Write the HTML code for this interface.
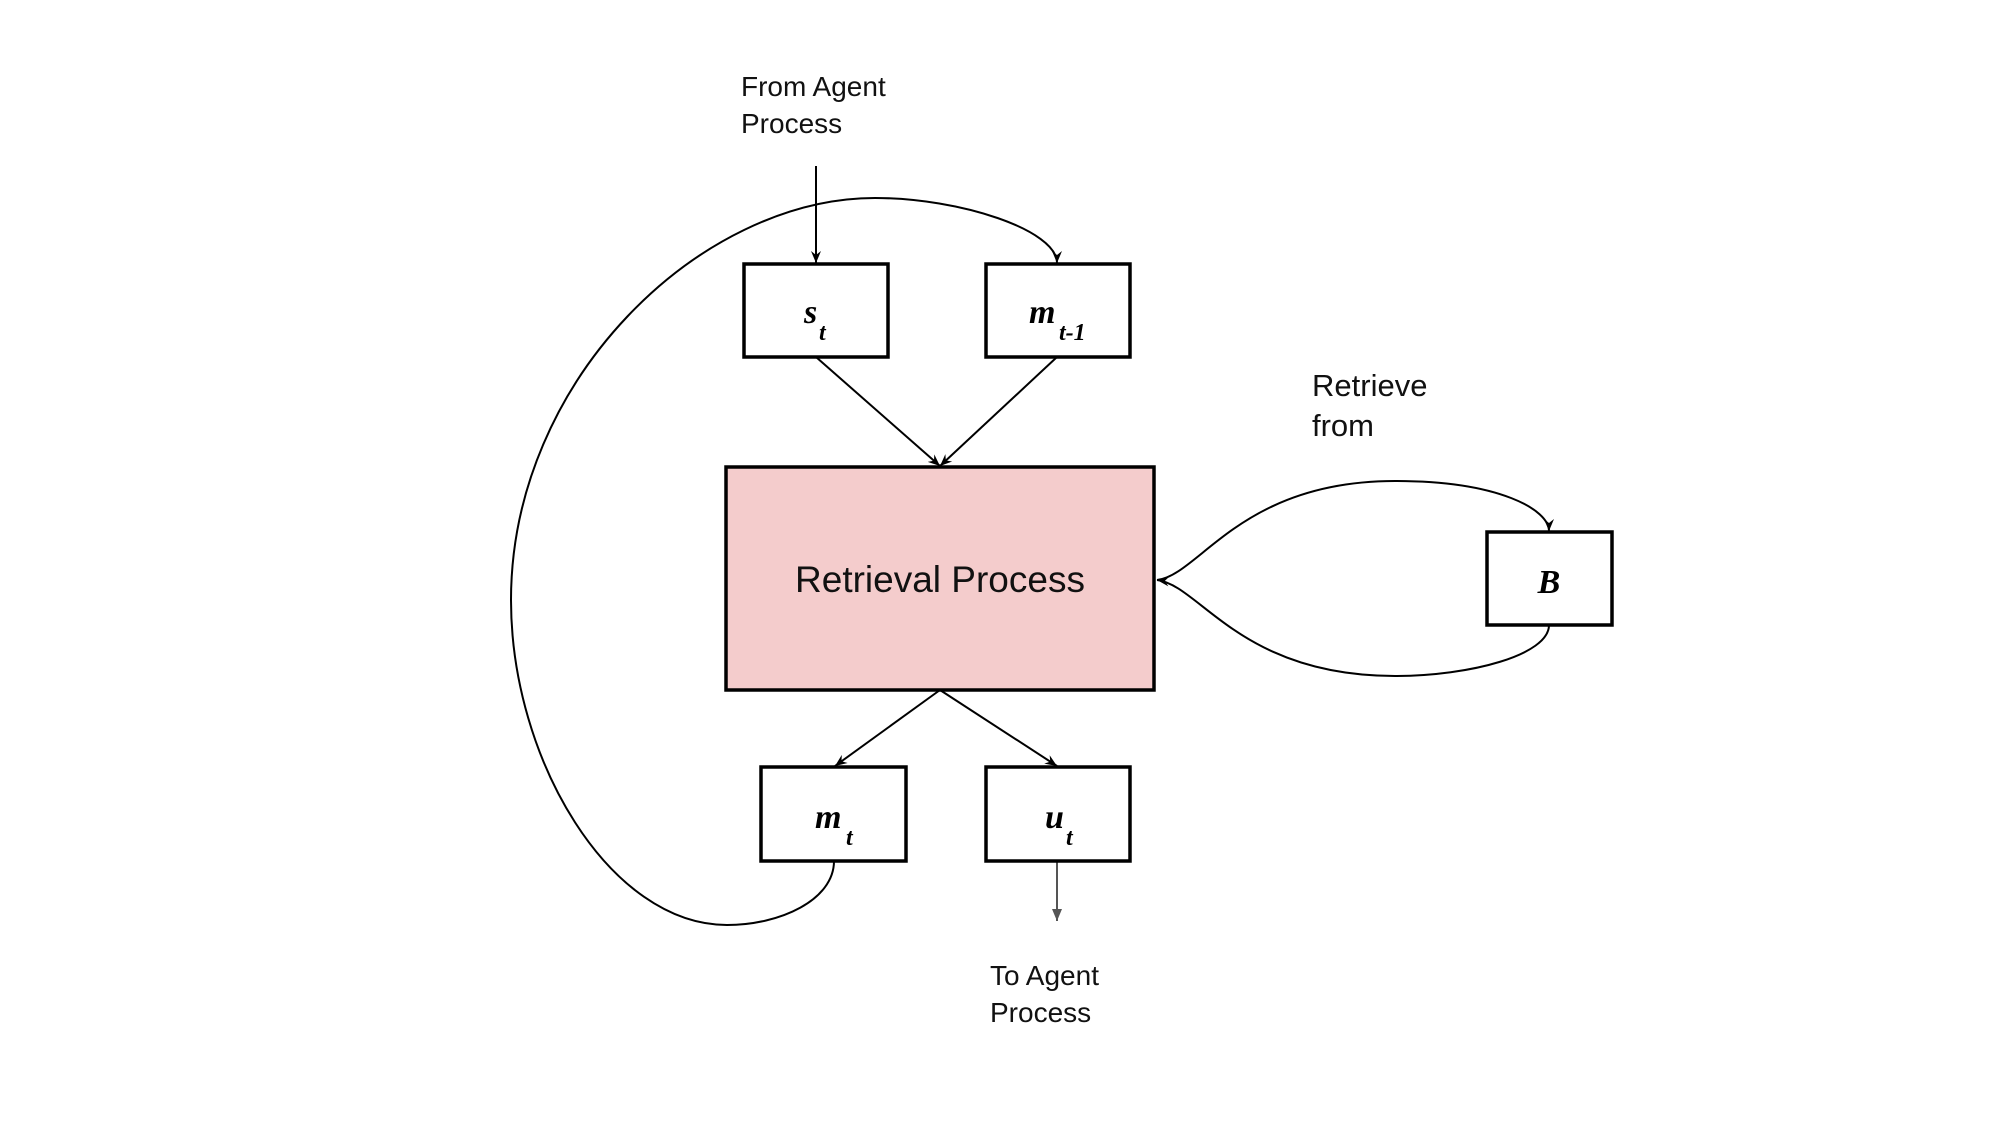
<!DOCTYPE html>
<html><head><style>
html,body{margin:0;padding:0;background:#fff;}
svg{display:block;}
.lbl{font-family:"Liberation Sans",sans-serif;fill:#111;}
.m{font-family:"Liberation Serif",serif;font-weight:bold;font-style:italic;fill:#000;}
</style></head><body>
<svg width="2000" height="1125" viewBox="0 0 2000 1125" xmlns="http://www.w3.org/2000/svg">
<defs>
<marker id="a" markerWidth="14" markerHeight="14" refX="12" refY="6" orient="auto" markerUnits="userSpaceOnUse">
<path d="M0,1 L12,6 L0,11 L4,6 z" fill="#000"/></marker>
<marker id="g" markerWidth="14" markerHeight="14" refX="12" refY="6" orient="auto" markerUnits="userSpaceOnUse">
<path d="M0,1 L12,6 L0,11 z" fill="#555"/></marker>
</defs>
<rect width="2000" height="1125" fill="#fff"/>
<g fill="none" stroke="#000" stroke-width="2">
<path d="M816,166 L816,263" marker-end="url(#a)"/>
<path d="M834,861 C834,900 780,925 727,925 C610,925 511,760 511,600 C511,380 700,198 875,198 C960,198 1057,230 1057,263" marker-end="url(#a)"/>
<path d="M816,357 L940,466" marker-end="url(#a)"/>
<path d="M1057,357 L940,466" marker-end="url(#a)"/>
<path d="M940,690 L835,766" marker-end="url(#a)"/>
<path d="M940,690 L1057,766" marker-end="url(#a)"/>
<path d="M1157,580 C1200,575 1240,481 1395,481 C1500,481 1549,510 1549,531" marker-end="url(#a)"/>
<path d="M1549,625 C1549,655 1470,676 1395,676 C1240,676 1200,585 1157,580" marker-end="url(#a)"/>
</g>
<path d="M1057,861 L1057,921" stroke="#555" stroke-width="2" fill="none" marker-end="url(#g)"/>
<g stroke="#000" stroke-width="3.5" fill="#fff">
<rect x="744" y="264" width="144" height="93"/>
<rect x="986" y="264" width="144" height="93"/>
<rect x="726" y="467" width="428" height="223" fill="#f4cccc"/>
<rect x="1487" y="532" width="125" height="93"/>
<rect x="761" y="767" width="145" height="94"/>
<rect x="986" y="767" width="144" height="94"/>
</g>
<text class="lbl" x="741" y="96" font-size="28">From Agent</text>
<text class="lbl" x="741" y="133" font-size="28">Process</text>
<text class="lbl" x="1312" y="396" font-size="31">Retrieve</text>
<text class="lbl" x="1312" y="436" font-size="31">from</text>
<text class="lbl" x="990" y="985" font-size="28">To Agent</text>
<text class="lbl" x="990" y="1022" font-size="28">Process</text>
<text class="lbl" x="940" y="592" font-size="37" text-anchor="middle">Retrieval Process</text>
<text class="m" x="804" y="323" font-size="34">s</text><text class="m" x="819" y="340" font-size="24">t</text>
<text class="m" x="1029" y="323" font-size="34">m</text><text class="m" x="1059" y="340" font-size="24">t-1</text>
<text class="m" x="1549" y="593" font-size="34" text-anchor="middle">B</text>
<text class="m" x="815" y="828" font-size="34">m</text><text class="m" x="846" y="845" font-size="24">t</text>
<text class="m" x="1045" y="828" font-size="34">u</text><text class="m" x="1066" y="845" font-size="24">t</text>
</svg>
</body></html>
